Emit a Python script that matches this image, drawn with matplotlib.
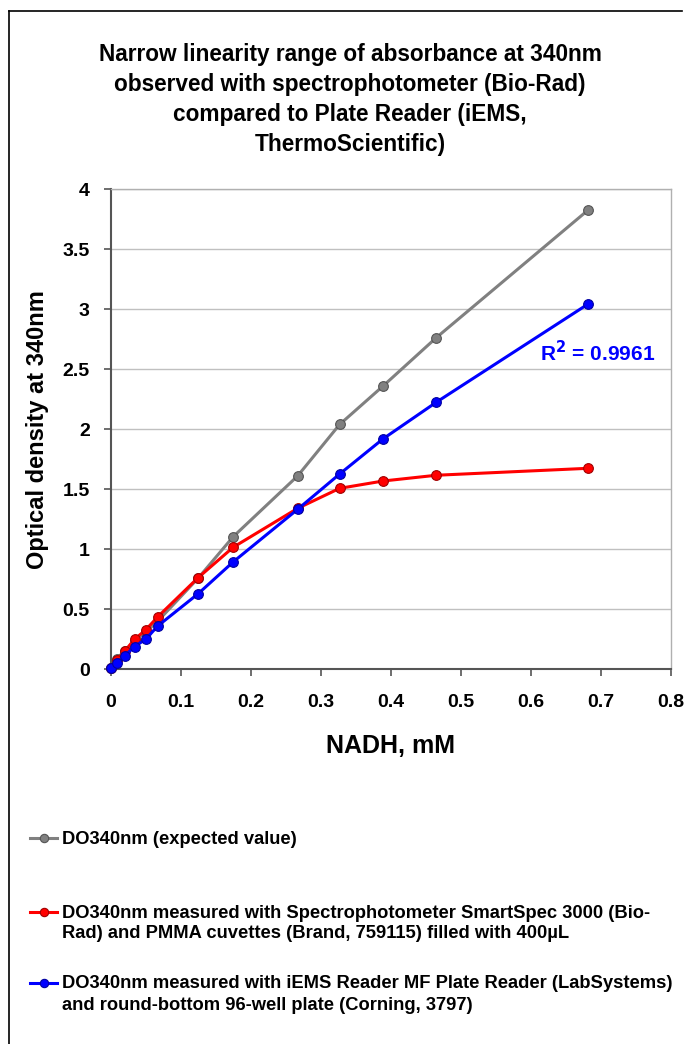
import matplotlib
matplotlib.use("Agg")
import matplotlib.pyplot as plt
from matplotlib.lines import Line2D

plt.rcParams['font.family'] = ['Liberation Sans', 'DejaVu Sans']
plt.rcParams['font.weight'] = 'bold'

# NADH concentration (mM)
nadh = [0, 0.0085, 0.02, 0.034, 0.05, 0.067, 0.125, 0.175, 0.267, 0.327, 0.389, 0.465, 0.682]
# optical density at 340 nm
od_expected = [0.01, 0.09, 0.15, 0.24, 0.31, 0.40, 0.76, 1.105, 1.611, 2.04, 2.36, 2.763, 3.827]
od_smartspec = [0.01, 0.08, 0.15, 0.25, 0.328, 0.436, 0.764, 1.017, 1.341, 1.508, 1.569, 1.617, 1.675]
od_iems = [0.01, 0.055, 0.11, 0.19, 0.25, 0.36, 0.63, 0.895, 1.333, 1.627, 1.92, 2.225, 3.044]

labels = [
    ['DO340nm (expected value)'],
    ['DO340nm measured with Spectrophotometer SmartSpec 3000 (Bio-',
     'Rad) and PMMA cuvettes (Brand, 759115) filled with 400\u00b5L'],
    ['DO340nm measured with iEMS Reader MF Plate Reader (LabSystems)',
     'and round-bottom 96-well plate (Corning, 3797)'],
]
colors = ['#808080', '#ff0000', '#0000ff']
edges = ['#555555', '#a00000', '#0000a0']
title_lines = ['Narrow linearity range of absorbance at 340nm',
               'observed with spectrophotometer (Bio-Rad)',
               'compared to Plate Reader (iEMS,',
               'ThermoScientific)']

W, H = 686, 1044
fig = plt.figure(figsize=(W / 100, H / 100), dpi=100)
ax = fig.add_axes([110.7 / W, 1 - 669.3 / H, 560 / W, 480 / H])

for ys, c, ec in zip([od_expected, od_smartspec, od_iems], colors, edges):
    ax.plot(nadh, ys, color=c, lw=2.2, marker='o', ms=7, mfc=c, mec=ec, mew=0.8,
            clip_on=False, zorder=3)

ax.text(0.614, 2.636, 'R$^{\\mathbf{2}}$ = 0.9961', color='#0000ff', fontsize=15,
        fontweight='bold', va='center', ha='left')

ax.set_xlim(0, 0.8)
ax.set_ylim(0, 4)
ax.set_xticks([0, 0.1, 0.2, 0.3, 0.4, 0.5, 0.6, 0.7, 0.8])
ax.set_xticklabels(['0', '0.1', '0.2', '0.3', '0.4', '0.5', '0.6', '0.7', '0.8'])
ax.set_yticks([0, 0.5, 1, 1.5, 2, 2.5, 3, 3.5, 4])
ax.set_yticklabels(['0', '0.5', '1', '1.5', '2', '2.5', '3', '3.5', '4'])
ax.tick_params(labelsize=14, length=5, width=1.2, color='#555555')
ax.tick_params(axis='x', pad=13)
ax.tick_params(axis='y', pad=10)
for t in ax.get_xticklabels() + ax.get_yticklabels():
    t.set_fontweight('bold')
ax.grid(axis='y', color='#c0c0c0', lw=1)
ax.set_axisbelow(True)
for s in ['left', 'bottom']:
    ax.spines[s].set_color('#555555')
    ax.spines[s].set_linewidth(1.5)
for s in ['top', 'right']:
    ax.spines[s].set_color('#b0b0b0')
    ax.spines[s].set_linewidth(1)

ax.set_xlabel('NADH, mM', fontsize=18, fontweight='bold', labelpad=16)
ax.set_ylabel('Optical density at 340nm', fontsize=17, fontweight='bold', labelpad=10)

# title, one line at a time
for i, line in enumerate(title_lines):
    fig.text(350 / W, 1 - (60.7 + 30 * i) / H, line, fontsize=16.3, fontweight='bold',
             ha='center', va='baseline')

# legend drawn by hand so the handle sits on the first text line
entry_y = [838, 912, 983]
for y0, lab, c, ec in zip(entry_y, labels, colors, edges):
    fy = 1 - y0 / H
    fig.add_artist(Line2D([30 / W, 57 / W], [fy, fy], color=c, lw=2.2,
                          transform=fig.transFigure))
    fig.add_artist(Line2D([43.5 / W], [fy], color=c, marker='o', ms=6, mfc=c, mec=ec,
                          mew=0.8, transform=fig.transFigure))
    for k, txt in enumerate(lab):
        fig.text(62 / W, 1 - (y0 + 5.5 + 21 * k) / H, txt, fontsize=13.2,
                 fontweight='bold', ha='left', va='baseline')

# chart border (top and left edges visible)
fig.add_artist(Line2D([9 / W, 9 / W], [0, 1 - 11 / H], color='black', lw=1.2,
                      transform=fig.transFigure))
fig.add_artist(Line2D([9 / W, 682 / W], [1 - 11 / H, 1 - 11 / H], color='black', lw=1.2,
                      transform=fig.transFigure))

fig.savefig('out.png', dpi=100)
